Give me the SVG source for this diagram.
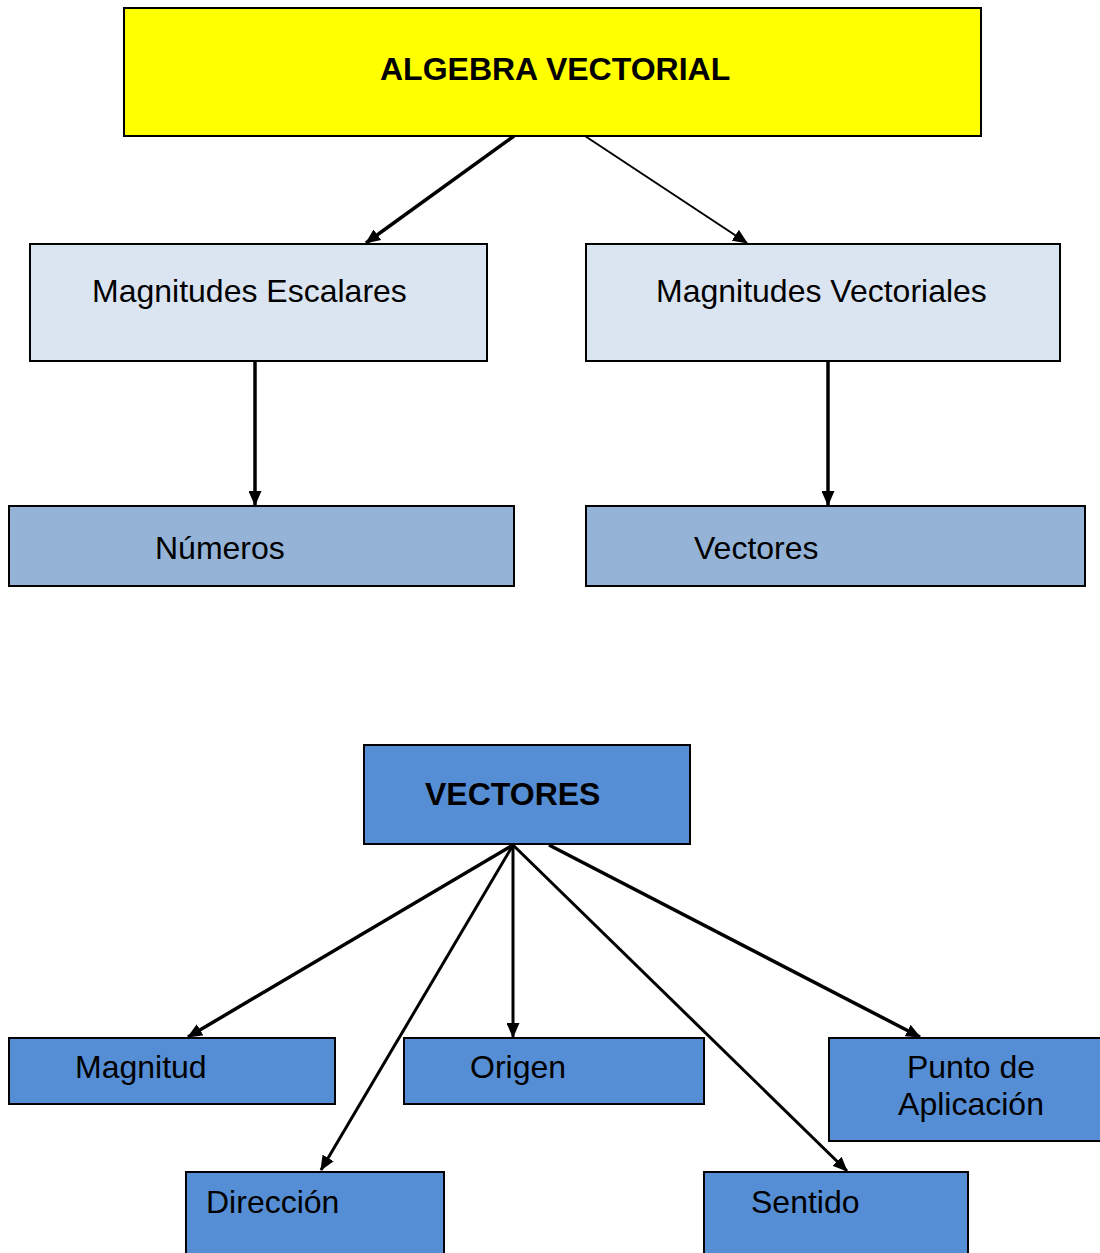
<svg xmlns="http://www.w3.org/2000/svg" width="1100" height="1253" viewBox="0 0 1100 1253">
<defs>
<style>
.box{stroke:#000;stroke-width:2}
.t{font-family:"Liberation Sans",Arial,sans-serif;font-size:32px;fill:#000}
.b{font-weight:bold}
.c{stroke:#000;fill:none}
</style>
<marker id="ah" markerWidth="15" markerHeight="13" refX="14" refY="6.5" orient="auto" markerUnits="userSpaceOnUse">
<path d="M0,0 L15,6.5 L0,13 Z" fill="#000"/>
</marker>
</defs>
<rect width="1100" height="1253" fill="#fff"/>
<g id="connectors">
<line class="c" x1="514" y1="136" x2="366" y2="243" stroke-width="3.5" marker-end="url(#ah)"/>
<line class="c" x1="585" y1="136" x2="747" y2="243" stroke-width="2" marker-end="url(#ah)"/>
<line class="c" x1="255" y1="361" x2="255" y2="505" stroke-width="3.5" marker-end="url(#ah)"/>
<line class="c" x1="828" y1="361" x2="828" y2="505" stroke-width="3.5" marker-end="url(#ah)"/>
<line class="c" x1="513" y1="845" x2="188" y2="1037" stroke-width="3.5" marker-end="url(#ah)"/>
<line class="c" x1="513" y1="845" x2="321" y2="1170" stroke-width="3" marker-end="url(#ah)"/>
<line class="c" x1="513" y1="845" x2="513" y2="1037" stroke-width="3" marker-end="url(#ah)"/>
<line class="c" x1="513" y1="845" x2="847" y2="1171" stroke-width="3" marker-end="url(#ah)"/>
<line class="c" x1="549" y1="845" x2="920" y2="1037" stroke-width="3.5" marker-end="url(#ah)"/>
</g>
<g id="algebra">
<rect class="box" x="124" y="8" width="857" height="128" fill="#FFFF00"/>
<text class="t b" x="380" y="80">ALGEBRA VECTORIAL</text>
</g>
<g id="escalares">
<rect class="box" x="30" y="244" width="457" height="117" fill="#DBE5F1"/>
<text class="t" x="92" y="302">Magnitudes Escalares</text>
</g>
<g id="vectoriales">
<rect class="box" x="586" y="244" width="474" height="117" fill="#DBE5F1"/>
<text class="t" x="656" y="302">Magnitudes Vectoriales</text>
</g>
<g id="numeros">
<rect class="box" x="9" y="506" width="505" height="80" fill="#95B3D7"/>
<text class="t" x="155" y="559">Números</text>
</g>
<g id="vectores1">
<rect class="box" x="586" y="506" width="499" height="80" fill="#95B3D7"/>
<text class="t" x="694" y="559">Vectores</text>
</g>
<g id="vectores2">
<rect class="box" x="364" y="745" width="326" height="99" fill="#558ED5"/>
<text class="t b" x="425" y="805">VECTORES</text>
</g>
<g id="magnitud">
<rect class="box" x="9" y="1038" width="326" height="66" fill="#558ED5"/>
<text class="t" x="75" y="1078">Magnitud</text>
</g>
<g id="origen">
<rect class="box" x="404" y="1038" width="300" height="66" fill="#558ED5"/>
<text class="t" x="470" y="1078">Origen</text>
</g>
<g id="punto">
<rect class="box" x="829" y="1038" width="290" height="103" fill="#558ED5"/>
<text class="t" x="971" y="1078" text-anchor="middle">Punto de</text>
<text class="t" x="971" y="1115" text-anchor="middle">Aplicación</text>
</g>
<g id="direccion">
<rect class="box" x="186" y="1172" width="258" height="100" fill="#558ED5"/>
<text class="t" x="206" y="1213">Dirección</text>
</g>
<g id="sentido">
<rect class="box" x="704" y="1172" width="264" height="100" fill="#558ED5"/>
<text class="t" x="751" y="1213">Sentido</text>
</g>
</svg>
